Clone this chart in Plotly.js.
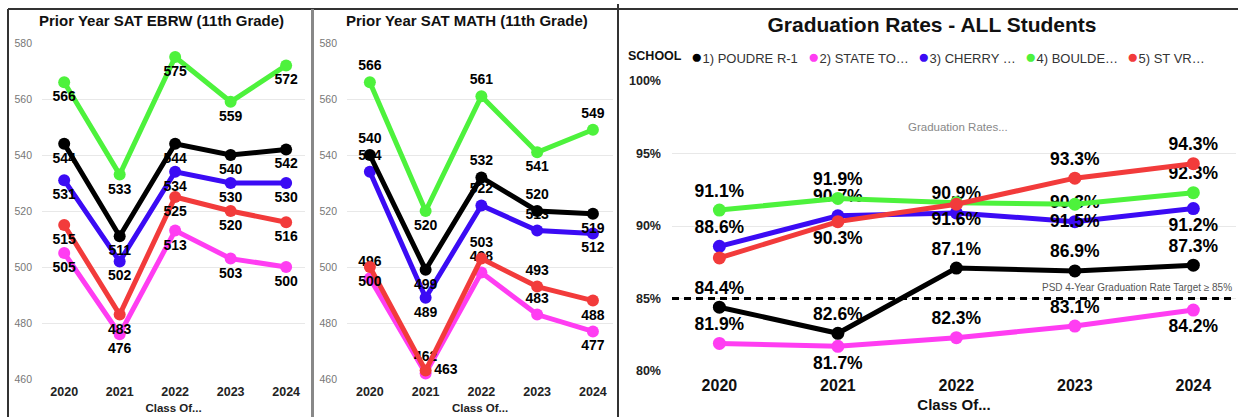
<!DOCTYPE html>
<html><head><meta charset="utf-8">
<script src="https://cdn.plot.ly/plotly-3.0.1.min.js"></script>
<style>html,body{margin:0;padding:0;background:#fff;} #chart{width:1238px;height:417px;}</style>
</head><body><div id="chart"></div>
<script>
// ---------- DATA ----------
const years = ['2020','2021','2022','2023','2024'];
const schools = ['1) POUDRE R-1','2) STATE TO…','3) CHERRY …','4) BOULDE…','5) ST VR…'];

const ebrwPoudre  = [544,511,544,540,542];
const ebrwState   = [505,476,513,503,500];
const ebrwCherry  = [531,502,534,530,530];
const ebrwBoulder = [566,533,575,559,572];
const ebrwStVrain = [515,483,525,520,516];

const mathPoudre  = [540,499,532,520,519];
const mathState   = [496,462,498,483,477];
const mathCherry  = [534,489,522,513,512];
const mathBoulder = [566,520,561,541,549];
const mathStVrain = [500,463,503,493,488];

const gradPoudre  = [84.4,82.6,87.1,86.9,87.3];
const gradState   = [81.9,81.7,82.3,83.1,84.2];
const gradCherry  = [88.6,90.7,90.9,90.3,91.2];
const gradBoulder = [91.1,91.9,91.6,91.5,92.3];
const gradStVrain = [87.8,90.3,91.5,93.3,94.3];
const gradTarget = 85;
const targetLabel = 'PSD 4-Year Graduation Rate Target ≥ 85%';

const satTicks = [460,480,500,520,540,560,580];
const gradTicks = [80,85,90,95,100];
const gradTickText = ['80%','85%','90%','95%','100%'];

// ---------- STYLE ----------
const W = 1238, H = 417;
const px = x => x / W, py = y => 1 - y / H;
const FONT = 'Liberation Sans, Arial, sans-serif';
const colors = ['#000000','#FF3DF2','#3B0BF4','#4DF23C','#F23B3B'];
const B = 'bottom center', T = 'top center';
const ebrwPos = [[B,B,B,B,B],[B,B,B,B,B],[B,B,B,B,B],[B,B,B,B,B],[B,B,B,B,B]];
const mathPos = [
  [T,B,T,T,B],
  [T,T,T,T,B],
  [T,B,T,T,B],
  [T,B,T,B,T],
  [B,'middle right',T,T,B]
];
const gradPos = [
  [T,T,T,T,T],
  [T,B,T,T,B],
  [T,T,T,T,B],
  [T,T,B,B,T],
  [T,B,T,T,T]
];
const gradHide = [[],[],[],[],[0,2]];
const drawOrder = [1,2,3,0,4];

function mk(vals, i, xa, ya, pos, fmt, hide, lw, ms, fs) {
  return {
    type:'scatter', mode:'lines+markers+text', x: years, y: vals,
    xaxis: xa, yaxis: ya, name: schools[i],
    line:{color: colors[i], width: lw}, marker:{color: colors[i], size: ms},
    text: vals.map((v,k) => hide.includes(k) ? '' : fmt(v)),
    textposition: pos,
    textfont:{family: FONT, size: fs, color:'#000', weight:'bold'},
    cliponaxis:false, showlegend:false, hoverinfo:'skip'
  };
}
const ebrw = [ebrwPoudre, ebrwState, ebrwCherry, ebrwBoulder, ebrwStVrain];
const math = [mathPoudre, mathState, mathCherry, mathBoulder, mathStVrain];
const grad = [gradPoudre, gradState, gradCherry, gradBoulder, gradStVrain];

const traces = [];
drawOrder.forEach(i => traces.push(mk(ebrw[i], i, 'x', 'y', ebrwPos[i], v => String(v), [], 5, 12, 14)));
drawOrder.forEach(i => traces.push(mk(math[i], i, 'x2', 'y2', mathPos[i], v => String(v), [], 5, 12, 14)));
drawOrder.forEach(i => traces.push(mk(grad[i], i, 'x3', 'y3', gradPos[i], v => v.toFixed(1) + '%', gradHide[i], 5, 13, 17.5)));

function satX(d0, d1, r, anchor) {
  return {domain:[px(d0), px(d1)], range:r, type:'category', anchor: anchor,
    showgrid:false, zeroline:false, showline:false, ticks:'',
    tickfont:{family: FONT, size: 12.5, color:'#222', weight:'bold'}, ticklabelstandoff: 3,
    title:{text:'Class Of...', font:{family: FONT, size: 11.5, color:'#222', weight:'bold'}, standoff: 6},
    fixedrange:true};
}
function satY(anchor) {
  return {domain:[py(379), py(43)], range:[460,580], anchor: anchor, tickvals: satTicks,
    showgrid:true, gridcolor:'#e8e8e8', gridwidth:1, zeroline:false, showline:false, ticks:'',
    tickfont:{family: FONT, size: 10.5, color:'#777'}, ticklabelstandoff: 9, fixedrange:true};
}

const legendX = [689, 806, 916, 1023, 1125];
const annotations = [
  {text:'Prior Year SAT EBRW (11th Grade)', x: px(161), y: py(20)},
  {text:'Prior Year SAT MATH (11th Grade)', x: px(467), y: py(20)}
].map(a => Object.assign(a, {xref:'paper', yref:'paper', xanchor:'center', yanchor:'middle', showarrow:false,
  font:{family: FONT, size: 15, color:'#111', weight:'bold'}}));

annotations.push({text:'SCHOOL', x: px(626), y: py(56), xref:'paper', yref:'paper', xanchor:'left', yanchor:'middle',
  showarrow:false, font:{family: FONT, size: 12.5, color:'#111', weight:'bold'}});
schools.forEach((s, i) => annotations.push({
  text:'<span style="color:' + colors[i] + ';font-size:19px">●</span>' + s,
  x: px(legendX[i]), y: py(56), xref:'paper', yref:'paper', xanchor:'left', yanchor:'middle',
  showarrow:false, font:{family: FONT, size: 13, color:'#333'}}));
annotations.push({text:'Graduation Rates...', x: px(958), y: py(127), xref:'paper', yref:'paper',
  xanchor:'center', yanchor:'middle', showarrow:false, font:{family: FONT, size: 11.5, color:'#888'}});
annotations.push({text: targetLabel, x: 1, y: gradTarget, xref:'x3 domain', yref:'y3',
  xanchor:'right', yanchor:'bottom', yshift: 4, xshift: -2, showarrow:false,
  font:{family: FONT, size: 10, color:'#555'}});

const shapes = [
  {type:'line', xref:'paper', yref:'paper', x0: px(8), x1: 1, y0: py(9), y1: py(9), line:{color:'#333', width:2}},
  {type:'line', xref:'paper', yref:'paper', x0: px(8), x1: px(8), y0: py(9), y1: 0, line:{color:'#333', width:2}},
  {type:'line', xref:'paper', yref:'paper', x0: px(312.5), x1: px(312.5), y0: py(9), y1: 0, line:{color:'#888', width:3}},
  {type:'line', xref:'paper', yref:'paper', x0: px(618), x1: px(618), y0: py(4), y1: 0, line:{color:'#333', width:2}},
  {type:'line', xref:'x3 domain', yref:'y3', x0: 0, x1: 1, y0: gradTarget, y1: gradTarget,
    line:{color:'#000', width:3, dash:'7px,5px'}, layer:'above'}
];

const layout = {
  width: W, height: H, margin:{l:0, r:0, t:0, b:0, pad:0},
  paper_bgcolor:'#fff', plot_bgcolor:'rgba(0,0,0,0)',
  font:{family: FONT},
  title:{text:'Graduation Rates - ALL Students', x: px(932), xanchor:'center', y: py(25), yanchor:'middle',
    xref:'paper', yref:'paper', font:{family: FONT, size: 21, color:'#111', weight:'bold'}},
  xaxis: satX(42, 305, [-0.4, 4.34], 'y'),
  yaxis: satY('x'),
  xaxis2: satX(347, 613, [-0.41, 4.36], 'y2'),
  yaxis2: satY('x2'),
  xaxis3: {domain:[px(672), px(1236)], range:[-0.4, 4.36], type:'category', anchor:'y3',
    showgrid:false, zeroline:false, showline:false, ticks:'',
    tickfont:{family: FONT, size: 16, color:'#111', weight:'bold'}, ticklabelstandoff: 3,
    title:{text:'Class Of...', font:{family: FONT, size: 15, color:'#111', weight:'bold'}, standoff: 6},
    fixedrange:true},
  yaxis3: {domain:[py(371), py(81)], range:[80,100], anchor:'x3', tickvals: gradTicks, ticktext: gradTickText,
    showgrid:true, gridcolor:'#e8e8e8', gridwidth:1, zeroline:false, showline:false, ticks:'',
    tickfont:{family: FONT, size: 12.5, color:'#222', weight:'bold'}, ticklabelstandoff: 10, fixedrange:true},
  shapes: shapes,
  annotations: annotations,
  showlegend:false, hovermode:false
};

Plotly.newPlot('chart', traces, layout, {staticPlot:true, displayModeBar:false});
</script></body></html>
